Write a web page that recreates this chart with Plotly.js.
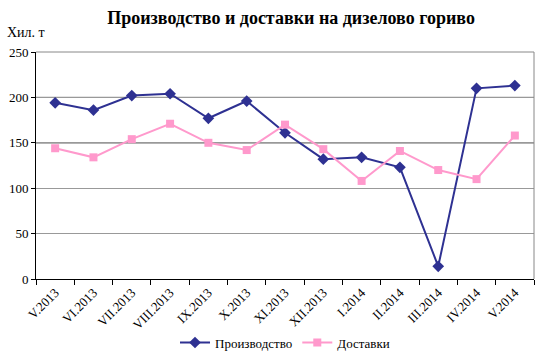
<!DOCTYPE html>
<html><head><meta charset="utf-8">
<script src="https://cdn.plot.ly/plotly-3.0.1.min.js"></script>
<style>body{margin:0;background:#fff}#c{width:539px;height:363px}</style>
</head><body><div id="c"></div>
<script>
const months = ["V.2013","VI.2013","VII.2013","VIII.2013","IX.2013","X.2013","XI.2013","XII.2013","I.2014","II.2014","III.2014","IV.2014","V.2014"];
const production = [194,186,202,204,177,196,161,132,134,123,14,210,213];
const deliveries = [144,134,154,171,150,142,170,143,108,141,120,110,158];
const seriesNames = ["Производство","Доставки"];

const serif = "'Liberation Serif', 'Times New Roman', 'DejaVu Serif', serif";
const traces = [
  {x: months, y: production, name: seriesNames[0], type: "scatter", mode: "lines+markers",
   line: {color: "#2E3192", width: 2}, marker: {symbol: "diamond", size: 9, color: "#2E3192"}},
  {x: months, y: deliveries, name: seriesNames[1], type: "scatter", mode: "lines+markers",
   line: {color: "#FF99CC", width: 2}, marker: {symbol: "square", size: 8, color: "#FF99CC"}}
];
const layout = {
  width: 539, height: 363,
  margin: {l: 36, r: 5, t: 52, b: 79},
  paper_bgcolor: "#fff", plot_bgcolor: "#fff",
  font: {family: serif, size: 13, color: "#000"},
  title: {text: "<b>Производство и доставки на дизелово гориво</b>", font: {family: serif, size: 18, color: "#000"},
          x: 0.54, xref: "container", xanchor: "center", y: 0.95, yref: "container", yanchor: "middle"},
  xaxis: {type: "category", tickangle: -45, ticks: "outside", ticklen: 5, tickson: "boundaries",
          tickcolor: "#000", showline: true, linecolor: "#000", mirror: false, showgrid: false,
          tickfont: {family: serif, size: 13, color: "#000"}, range: [-0.5, 12.5]},
  yaxis: {range: [0, 250], dtick: 50, ticks: "outside", ticklen: 4, tickcolor: "#000",
          showline: true, linecolor: "#000", gridcolor: "#999", gridwidth: 1, zeroline: false,
          tickfont: {family: serif, size: 13, color: "#000"}},
  shapes: [
    {type: "line", xref: "paper", x0: 0, x1: 1, yref: "y", y0: 200, y1: 200, line: {color: "#000", width: 1}, layer: "below"},
    {type: "line", xref: "paper", x0: 0, x1: 1, yref: "y", y0: 150, y1: 150, line: {color: "#000", width: 1}, layer: "below"},
    {type: "line", xref: "paper", x0: 0, x1: 1, yref: "paper", y0: 1, y1: 1, line: {color: "#888", width: 1}},
    {type: "line", xref: "paper", x0: 1, x1: 1, yref: "paper", y0: 0, y1: 1, line: {color: "#888", width: 1}}
  ],
  annotations: [
    {text: "Хил. т", xref: "paper", yref: "paper", x: -0.062, y: 1.087, xanchor: "left", yanchor: "middle",
     showarrow: false, font: {family: serif, size: 14, color: "#000"}}
  ],
  showlegend: true,
  legend: {orientation: "h", x: 0.5, xanchor: "center", y: -0.28, yanchor: "middle",
           font: {family: serif, size: 13, color: "#000"}, bgcolor: "rgba(0,0,0,0)"}
};
Plotly.newPlot("c", traces, layout, {displayModeBar: false, staticPlot: true});
</script></body></html>
